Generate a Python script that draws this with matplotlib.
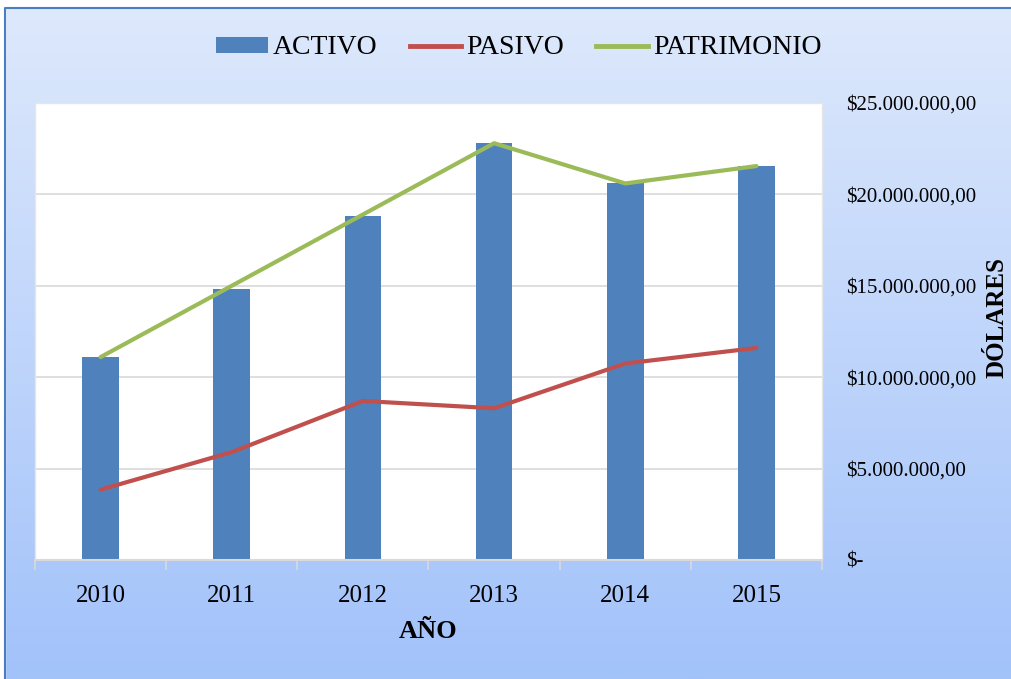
import numpy as np
import matplotlib.pyplot as plt
from matplotlib.lines import Line2D
from matplotlib.patches import Patch, Rectangle
from matplotlib.ticker import FuncFormatter, FixedLocator

years = ['2010', '2011', '2012', '2013', '2014', '2015']
activo = [11.1e6, 14.85e6, 18.8e6, 22.8e6, 20.6e6, 21.55e6]
pasivo = [3.85e6, 5.9e6, 8.7e6, 8.3e6, 10.75e6, 11.6e6]
patrimonio = [11.1e6, 15.0e6, 18.9e6, 22.8e6, 20.6e6, 21.55e6]

c_act = '#4f81bd'
c_pas = '#c0504d'
c_pat = '#9bbb59'
serif = ['Liberation Serif', 'DejaVu Serif']

fig = plt.figure(figsize=(10.12, 6.79), dpi=100)
fig.patch.set_facecolor('white')

# gradient background
bg = fig.add_axes([0, 0, 1, 1], zorder=-2)
grad = np.linspace(0, 1, 256).reshape(-1, 1)
top = np.array([222, 233, 252]) / 255
bot = np.array([162, 194, 250]) / 255
img = top[None, None, :] * (1 - grad[:, :, None]) + bot[None, None, :] * grad[:, :, None]
bg.imshow(img, aspect='auto', extent=[0, 1, 0, 1])
bg.set_xlim(0, 1)
bg.set_ylim(0, 1)
bg.axis('off')
W, H = 1012, 679
bg.add_patch(Rectangle((0, 0), 5 / W, 1, color='white', zorder=3))
bg.add_patch(Rectangle((0, 1 - 7 / H), 1, 7 / H, color='white', zorder=3))
bg.plot([5.5 / W, 5.5 / W, 1.0], [0, 1 - 7.5 / H, 1 - 7.5 / H], color='#4a7ec4', lw=1.5, zorder=4)

ax = fig.add_axes([35 / W, 1 - 560 / H, (822 - 35) / W, (560 - 103) / H])
ax.set_facecolor('white')
x = np.arange(len(years))
ax.bar(x, activo, width=0.28, color=c_act, zorder=2)
ax.plot(x, pasivo, color=c_pas, lw=3, solid_capstyle='round', zorder=3)
ax.plot(x, patrimonio, color=c_pat, lw=3, solid_capstyle='round', zorder=3)

ax.set_xlim(-0.5, len(years) - 0.5)
ax.set_ylim(0, 25e6)
ax.set_yticks(np.arange(0, 25e6 + 1, 5e6))
ax.grid(axis='y', color='#d9d9d9', lw=1.2, zorder=0)
ax.set_axisbelow(True)

def money(v, pos):
    if v == 0:
        return '$-'
    return '$' + f'{v:,.2f}'.replace(',', 'X').replace('.', ',').replace('X', '.')

ax.yaxis.tick_right()
ax.yaxis.set_major_formatter(FuncFormatter(money))
ax.tick_params(axis='y', length=0, pad=17, labelsize=15)
for lab in ax.get_yticklabels():
    lab.set_fontfamily(serif)

ax.set_xticks(x)
ax.set_xticklabels(years, fontfamily=serif, fontsize=18)
ax.tick_params(axis='x', length=0, pad=18)
ax.xaxis.set_minor_locator(FixedLocator(np.arange(-0.5, len(years), 1.0)))
ax.tick_params(axis='x', which='minor', length=7, width=1.2, color='#d9d9d9', direction='out')

for s in ['top', 'left', 'right']:
    ax.spines[s].set_color('#e6e6e6')
    ax.spines[s].set_linewidth(1)
ax.spines['bottom'].set_color('#d9d9d9')
ax.spines['bottom'].set_linewidth(1.5)

fig.text(428 / W, 1 - 632 / H, 'AÑO', fontfamily=serif, fontsize=19,
         fontweight='bold', ha='center', va='center')
fig.text(997 / W, 1 - 318 / H, 'DÓLARES', fontfamily=serif, fontsize=18,
         fontweight='bold', ha='center', va='center', rotation=90)

handles = [Patch(facecolor=c_act, label='ACTIVO'),
           Line2D([], [], color=c_pas, lw=3.5, label='PASIVO'),
           Line2D([], [], color=c_pat, lw=3.5, label='PATRIMONIO')]
fig.legend(handles=handles, loc='center', bbox_to_anchor=(519 / W, 1 - 48 / H),
           ncol=3, frameon=False, prop={'family': serif, 'size': 20},
           handlelength=1.85, handleheight=0.5, handletextpad=0.2, columnspacing=1.15)

fig.savefig('out.png', dpi=100)
